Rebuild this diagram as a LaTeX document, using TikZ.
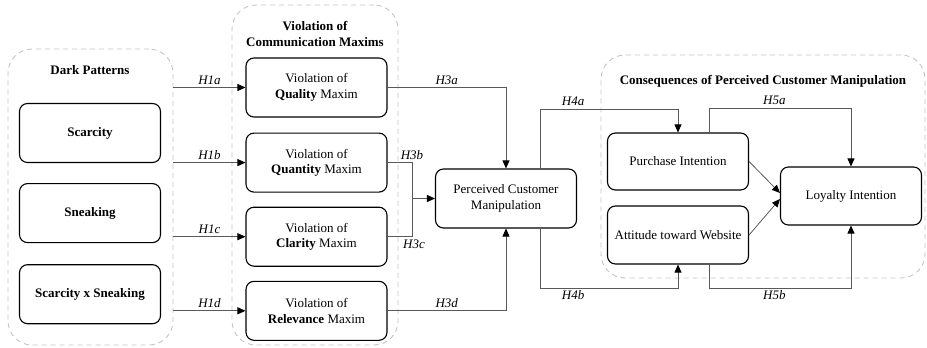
\documentclass[tikz,border=0pt]{standalone}
\usepackage{fontspec}
\setmainfont{Liberation Serif}
\usepackage{tikz}
\usetikzlibrary{arrows.meta, positioning}
\definecolor{linegray}{HTML}{595959}
\definecolor{groupgray}{HTML}{C4C4C4}

\begin{document}
\begin{tikzpicture}[
  x=1pt, y=-1pt,
  node distance=15pt,
  font=\fontsize{13}{15.5}\selectfont,
  box/.style={rectangle, draw, rounded corners=8pt, line width=1.1pt, minimum width=141pt, minimum height=59pt, align=center, inner sep=2pt},
  group/.style={rectangle, draw=groupgray, dash pattern=on 5pt off 4pt, rounded corners=24pt, line width=0.9pt},
  title/.style={font=\fontsize{13}{16}\selectfont\bfseries, align=center},
  hyp/.style={font=\fontsize{13}{15}\selectfont\itshape, text=black, inner sep=2.5pt},
  arr/.style={-{Triangle[length=8pt, width=7pt, color=black]}, color=linegray, line width=0.8pt},
  link/.style={color=linegray, line width=0.8pt},
]
\useasboundingbox (0,0) rectangle (927,348);

% groups
\node[group, minimum width=165pt, minimum height=296pt] (dp) at (90.5,197) {};
\node[group, minimum width=166pt, minimum height=340pt] (vcm) at (315,175) {};
\node[group, minimum width=324pt, minimum height=223pt] (cpm) at (763,166.5) {};

\node[title] (dptitle) at (90,70) {Dark Patterns};
\node[title] (vcmtitle) at (315,34) {Violation of\\Communication Maxims};
\node[title] (cpmtitle) at (763,81) {Consequences of Perceived Customer Manipulation};

% dark patterns
\node[box, font=\fontsize{13}{15.5}\selectfont\bfseries] (scar) at (90,133) {Scarcity};
\node[box, font=\fontsize{13}{15.5}\selectfont\bfseries, below=20pt of scar] (sneak) {Sneaking};
\node[box, font=\fontsize{13}{15.5}\selectfont\bfseries, below=21pt of sneak] (both) {Scarcity x Sneaking};

% maxims
\node[box] (qual) at (316.5,87.5) {Violation of\\\textbf{Quality} Maxim};
\node[box, below=of qual] (quan) {Violation of\\\textbf{Quantity} Maxim};
\node[box, below=14pt of quan] (clar) {Violation of\\\textbf{Clarity} Maxim};
\node[box, below=14pt of clar] (rel) {Violation of\\\textbf{Relevance} Maxim};

% manipulation and consequences
\node[box] (pcm) at (506,198.5) {Perceived Customer\\Manipulation};
\node[box, minimum height=57pt] (pi) at (678,161.5) {Purchase Intention};
\node[box, minimum height=58pt] (atw) at (678,235) {Attitude toward Website};
\node[box, minimum height=58pt] (li) at (851,196) {Loyalty Intention};

\coordinate (j3) at (412,198.5);
\coordinate (c4a) at (540,109);
\coordinate (c4b) at (540,288);
\coordinate (c5a) at (709,108);
\coordinate (c5b) at (709,288);

% H1
\draw[arr] (dp.east |- qual) -- node[hyp, above]{H1a} (qual.west);
\draw[arr] (dp.east |- quan) -- node[hyp, above]{H1b} (quan.west);
\draw[arr] (dp.east |- clar) -- node[hyp, above]{H1c} (clar.west);
\draw[arr] (dp.east |- rel) -- node[hyp, above]{H1d} (rel.west);

% H3
\draw[arr] (qual.east) -| node[hyp, pos=0.25, above]{H3a} (pcm.north);
\draw[arr] (quan.east) -| node[hyp, pos=0.5, above]{H3b} (j3) -- (pcm.west);
\draw[link] (clar.east) -| node[hyp, pos=0.5, below, xshift=2pt]{H3c} (j3);
\draw[arr] (rel.east) -| node[hyp, pos=0.25, above]{H3d} (pcm.south);

% H4
\draw[arr] (pcm.north -| c4a) -- (c4a) -| node[hyp, pos=0.12, above]{H4a} (pi.north);
\draw[arr] (pcm.south -| c4b) -- (c4b) -| node[hyp, pos=0.12, below]{H4b} (atw.south);

% H5
\draw[arr] (pi.north -| c5a) -- (c5a) -| node[hyp, pos=0.23, above]{H5a} (li.north);
\draw[arr] (atw.south -| c5b) -- (c5b) -| node[hyp, pos=0.23, below]{H5b} (li.south);
\draw[arr] (pi.east) -- ([yshift=3pt]li.west);
\draw[arr] (atw.east) -- ([yshift=-3pt]li.west);
\end{tikzpicture}
\end{document}
